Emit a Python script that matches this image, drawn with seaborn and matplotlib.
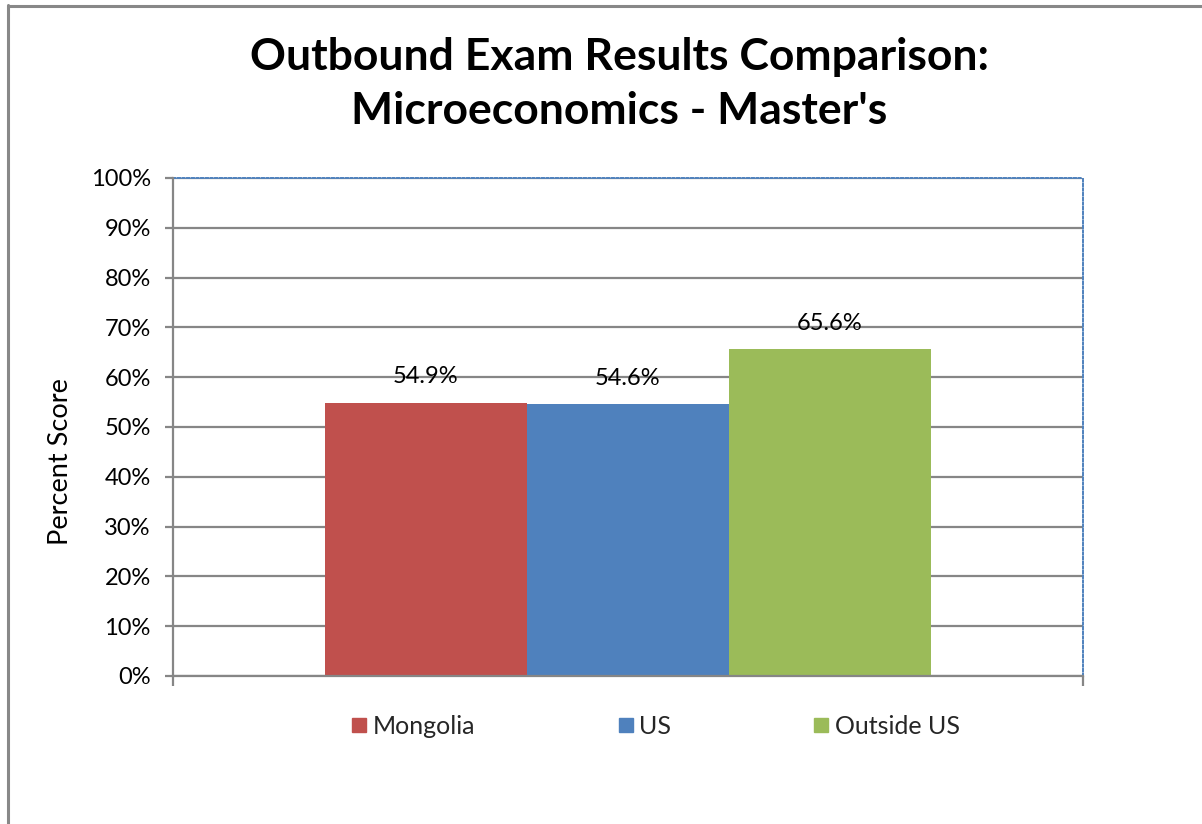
import matplotlib
matplotlib.use("Agg")
import matplotlib.pyplot as plt
import seaborn as sns
import pandas as pd
from matplotlib.lines import Line2D

series = ["Mongolia", "US", "Outside US"]
values = [54.9, 54.6, 65.6]
colors = ["#C0504D", "#4F81BD", "#9BBB59"]
yticks = [0, 10, 20, 30, 40, 50, 60, 70, 80, 90, 100]
title = "Outbound Exam Results Comparison:\nMicroeconomics - Master's"
ylabel = "Percent Score"

sns.set_theme(style="white")
plt.rcParams['font.family'] = ['Lato', 'DejaVu Sans']

df = pd.DataFrame({"cat": [""] * len(series), "series": series, "value": values})

fig = plt.figure(figsize=(12.02, 8.24), dpi=100)
ax = fig.add_axes([173/1202, 1 - 676/824, (1083-173)/1202, (676-178)/824])

sns.barplot(data=df, x="cat", y="value", hue="series", hue_order=series,
            palette=colors, width=0.666, gap=0, dodge=True, ax=ax,
            legend=False, saturation=1, linewidth=0, err_kws={'linewidth': 0})

ax.set_xlim(-0.5, 0.5)
ax.set_ylim(0, 100)
ax.set_yticks(yticks)
ax.set_yticklabels([f"{t}%" for t in yticks], fontsize=17, color="#000000")
ax.set_xticks([-0.5, 0.5])
ax.set_xticklabels(["", ""])
ax.set_xlabel("")
ax.set_ylabel(ylabel, fontsize=19.5, color="#000000")
ax.yaxis.set_label_coords((73 - 173) / 910, (676 - 462) / 498)

grid_c = "#868686"
ax.yaxis.grid(True, color=grid_c, linewidth=1.6)
ax.set_axisbelow(True)
ax.tick_params(axis="y", which="major", direction="out", length=6, width=1.6,
               color=grid_c, left=True, pad=10)
ax.tick_params(axis="x", which="major", direction="out", length=7, width=1.6,
               color=grid_c, bottom=True)
for s in ["left", "bottom"]:
    ax.spines[s].set_color(grid_c)
    ax.spines[s].set_linewidth(1.6)
for s in ["top", "right"]:
    ax.spines[s].set_color("#4F81BD")
    ax.spines[s].set_linewidth(1.4)
    ax.spines[s].set_linestyle((0, (1.2, 1.2)))
    ax.spines[s].set_visible(True)
ax.spines["left"].set_zorder(3)
ax.spines["bottom"].set_zorder(3)

for cont in ax.containers:
    ax.bar_label(cont, labels=[f"{v:.1f}%" for v in cont.datavalues],
                 padding=11, fontsize=17, color="#000000")

fig.text(619/1202, 1 - 84/824, title, ha="center", va="center",
         fontsize=32, fontweight="bold", color="#000000", linespacing=1.4)

handles = [Line2D([0], [0], marker="s", linestyle="", markersize=10,
                  markerfacecolor=c, markeredgecolor=c) for c in colors]
fig.legend(handles, series, loc="center", bbox_to_anchor=(656/1202, 1 - 726/824),
           ncol=3, frameon=False, fontsize=18, handletextpad=0.25,
           columnspacing=5.7, handlelength=0.6)

# outer chart border (left and top only visible)
fig.add_artist(Line2D([7.5/1202, 7.5/1202], [0, 1 - 5/824], transform=fig.transFigure,
                      color="#888888", linewidth=2.2))
fig.add_artist(Line2D([7.5/1202, 1], [1 - 5.5/824, 1 - 5.5/824], transform=fig.transFigure,
                      color="#888888", linewidth=2.2))

fig.savefig("out.png", dpi=100, facecolor="white")
